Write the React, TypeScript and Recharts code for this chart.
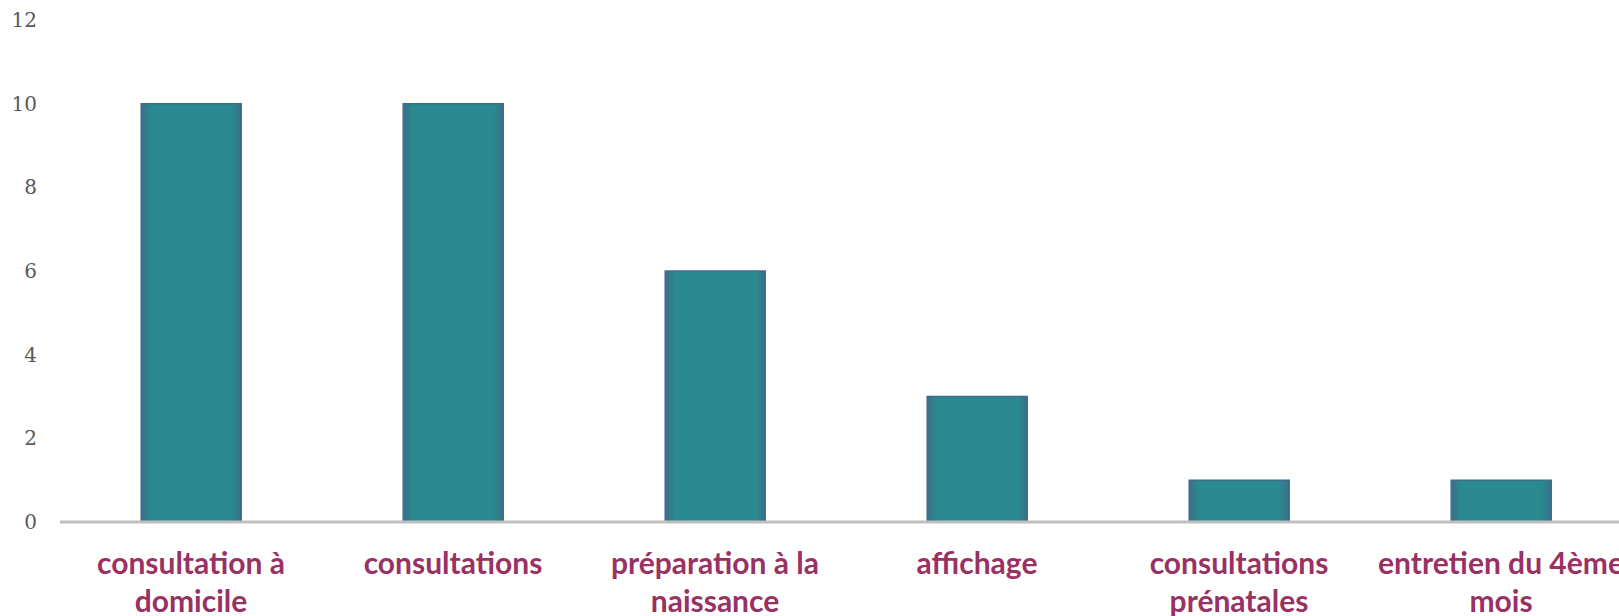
import { BarChart, Bar, XAxis, YAxis } from 'recharts';

const CATEGORIES = [
  'consultation à domicile',
  'consultations',
  'préparation à la naissance',
  'affichage',
  'consultations prénatales',
  'entretien du 4ème mois',
];

// wrapped tick labels, as the chart breaks them
const TICK_LINES: string[][] = [
  ['consultation à', 'domicile'],
  ['consultations'],
  ['préparation à la', 'naissance'],
  ['affichage'],
  ['consultations', 'prénatales'],
  ['entretien du 4ème', 'mois'],
];

const VALUES = [10, 10, 6, 3, 1, 1];

const Y_TICKS = [0, 2, 4, 6, 8, 10, 12];

const chartData = CATEGORIES.map((name, i) => ({ name, value: VALUES[i] }));

function CategoryTick(props: any) {
  const { x, y, index } = props;
  const lines = TICK_LINES[index] || [];
  return (
    <text
      x={x}
      y={y + 44}
      textAnchor="middle"
      fill="#9A3163"
      fontFamily="Lato, sans-serif"
      fontWeight={700}
      fontSize={30}
    >
      {lines.map((l, i) => (
        <tspan key={i} x={x} dy={i === 0 ? 0 : 38}>
          {l}
        </tspan>
      ))}
    </text>
  );
}

export default function App() {
  return (
    <div
      style={{
        position: 'absolute',
        left: 0,
        top: 0,
        width: 1619,
        height: 616,
        overflow: 'hidden',
      }}
    >
      <BarChart
        width={1640}
        height={616}
        data={chartData}
        margin={{ top: 20, right: 8, bottom: 0, left: 0 }}
        barCategoryGap="31%"
      >
        <defs>
          <linearGradient id="barEdge" x1="0" y1="0" x2="1" y2="0">
            <stop offset="0%" stopColor="#3A6F8A" />
            <stop offset="10%" stopColor="#2B8A8F" />
            <stop offset="90%" stopColor="#2B8A8F" />
            <stop offset="100%" stopColor="#3A6F8A" />
          </linearGradient>
        </defs>
        <XAxis
          dataKey="name"
          height={94}
          interval={0}
          tickLine={false}
          axisLine={{ stroke: '#BFBFBF', strokeWidth: 3 }}
          tick={<CategoryTick />}
        />
        <YAxis
          width={60}
          domain={[0, 12]}
          ticks={Y_TICKS}
          axisLine={false}
          tickLine={false}
          tickSize={0}
          tickMargin={23}
          tick={{ fill: '#595959', fontSize: 20, fontFamily: "'DejaVu Serif', serif" }}
        />
        <Bar
          dataKey="value"
          fill="url(#barEdge)"
          stroke="#3F6C8C"
          strokeWidth={1.5}
          isAnimationActive={false}
        />
      </BarChart>
    </div>
  );
}
